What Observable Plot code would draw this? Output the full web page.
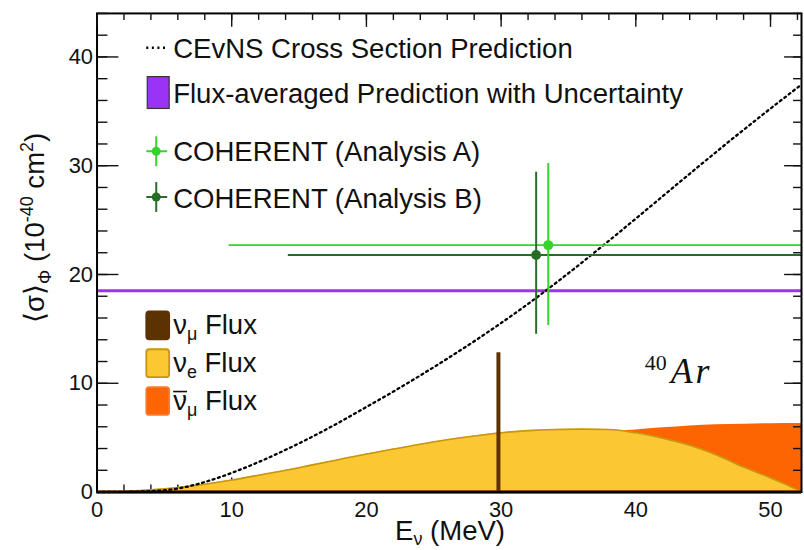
<!DOCTYPE html>
<html>
<head>
<meta charset="utf-8">
<script src="https://cdn.jsdelivr.net/npm/d3@7"></script>
<script src="https://cdn.jsdelivr.net/npm/@observablehq/plot@0.6"></script>
<style>
  html, body { margin: 0; padding: 0; background: #fff; overflow: hidden; }
  #chart { width: 804px; height: 550px; overflow: hidden; }
  #chart svg { display: block; }
</style>
</head>
<body>
<div id="chart"></div>
<script>
// Neutrino energy grid (MeV)
const energy = [0, 2, 4, 6, 8, 10, 12, 14, 16, 18, 20, 22, 24, 26, 28, 30, 32, 34, 36, 38, 40, 42, 44, 46, 48, 50, 52, 52.3];
// CEvNS cross section on argon (1e-40 cm^2)
const crossSection = [0, 0.02, 0.08, 0.32, 0.92, 1.76, 2.76, 3.88, 5.1, 6.42, 7.82, 9.24, 10.72, 12.26, 13.86, 15.54, 17.3, 19.16, 21.1, 23.1, 25.14, 27.2, 29.26, 31.3, 33.3, 35.26, 37.18, 37.47];
// Delayed nu_e flux shape (arbitrary units, same axis)
const nueFlux = [0, 0.05, 0.2, 0.42, 0.72, 1.1, 1.55, 2.0, 2.5, 3.0, 3.5, 3.95, 4.4, 4.8, 5.15, 5.45, 5.65, 5.75, 5.78, 5.75, 5.45, 4.95, 4.3, 3.4, 2.3, 1.3, 0.2, 0];
// Delayed anti-nu_mu flux shape (arbitrary units)
const numubarFlux = [0, 0.01, 0.06, 0.15, 0.3, 0.5, 0.75, 1.0, 1.3, 1.65, 2.1, 2.55, 3.0, 3.5, 4.0, 4.4, 4.8, 5.1, 5.35, 5.55, 5.7, 5.9, 6.08, 6.18, 6.24, 6.28, 6.3, 6.3];
// Prompt nu_mu line from pion decay at rest
const numuEnergy = [29.8];
const numuPeak = [12.8];
// Flux-averaged prediction
const fluxAveraged = [18.5];
// COHERENT measurements: central values and error-bar extents
const coherentLabels = ["COHERENT (Analysis A)", "COHERENT (Analysis B)"];
const coherentEnergy = [33.5, 32.6];
const coherentEnergyLow = [9.8, 14.2];
const coherentEnergyHigh = [60, 60];
const coherentSigma = [22.7, 21.8];
const coherentSigmaLow = [15.3, 14.5];
const coherentSigmaHigh = [30.2, 29.4];
const coherentColors = ["#35d42c", "#266e26"];
// Axis ticks
const xMajor = [0, 10, 20, 30, 40, 50];
const xMinor = d3.range(0, 53, 2);
const yMajor = [0, 10, 20, 30, 40];
const yMinor = d3.range(0, 45, 2);

const brown = "#5c3200";
const yellow = "#fbc733";
const gold = "#c9950e";
const orange = "#fd6503";
const purple = "#9b33f7";
const font = "'Liberation Sans', Helvetica, Arial, sans-serif";
const dots = "2,3.6";

const fluxTable = energy.map((e, i) => ({energy: e, nue: nueFlux[i], numubar: numubarFlux[i], xs: crossSection[i]}));
const coherent = coherentLabels.map((label, i) => ({
  label, energy: coherentEnergy[i], eLo: coherentEnergyLow[i], eHi: coherentEnergyHigh[i],
  sigma: coherentSigma[i], sLo: coherentSigmaLow[i], sHi: coherentSigmaHigh[i], color: coherentColors[i]
}));

const W = 808, H = 550;
const mL = 97, mR = 3, mT = 13, mB = 56;
const FW = W - mL - mR, FH = H - mT - mB;
const tick = {stroke: "#111", strokeOpacity: 1, strokeWidth: 1.4};

const plot = Plot.plot({
  width: W, height: H,
  marginLeft: mL, marginRight: mR, marginTop: mT, marginBottom: mB,
  x: {domain: [0, 52.3]},
  y: {domain: [0, 44]},
  color: {type: "identity"},
  style: {fontFamily: font, background: "white", color: "#111"},
  marks: [
    // bottom ticks lie beneath the flux fills
    Plot.gridX({ticks: xMinor, ...tick, insetTop: FH - 7}),
    Plot.gridX({ticks: xMajor, ...tick, insetTop: FH - 14}),
    Plot.areaY(fluxTable, {x: "energy", y: "numubar", fill: orange, curve: "monotone-x"}),
    Plot.areaY(fluxTable, {x: "energy", y: "nue", fill: yellow, curve: "monotone-x"}),
    Plot.lineY(fluxTable, {x: "energy", y: "nue", stroke: gold, strokeWidth: 1.6, curve: "monotone-x"}),
    Plot.ruleY([0], {stroke: brown, strokeWidth: 3.5}),
    Plot.ruleX(numuEnergy, {x: d => d, y1: 0, y2: numuPeak[0], stroke: brown, strokeWidth: 4}),
    Plot.ruleY(fluxAveraged, {stroke: purple, strokeWidth: 3}),
    Plot.lineY(fluxTable, {x: "energy", y: "xs", stroke: "#000", strokeWidth: 2.3, strokeDasharray: dots, curve: "monotone-x"}),
    Plot.ruleY(coherent, {y: "sigma", x1: "eLo", x2: "eHi", stroke: "color", strokeWidth: 2, clip: true}),
    Plot.ruleX(coherent, {x: "energy", y1: "sLo", y2: "sHi", stroke: "color", strokeWidth: 2}),
    Plot.dot(coherent, {x: "energy", y: "sigma", r: 5, fill: "color"}),
    Plot.frame({stroke: "#000", strokeWidth: 2}),
    // inward ticks on left, right and top edges
    Plot.gridY({ticks: yMinor, ...tick, insetRight: FW - 11}),
    Plot.gridY({ticks: yMajor, ...tick, insetRight: FW - 22}),
    Plot.gridY({ticks: yMinor, ...tick, insetLeft: FW - 8}),
    Plot.gridY({ticks: yMajor, ...tick, insetLeft: FW - 17}),
    Plot.gridX({ticks: xMinor, ...tick, insetBottom: FH - 7}),
    Plot.gridX({ticks: xMajor, ...tick, insetBottom: FH - 14}),
    Plot.axisY({ticks: yMajor, tickSize: 0, tickPadding: 4, fontSize: 22, label: null}),
    Plot.axisX({ticks: xMajor, tickSize: 0, tickPadding: 9, fontSize: 22, label: null})
  ]
});

document.getElementById("chart").appendChild(plot);

// Annotations: axis titles, legends, target label
const svg = d3.select(plot);
const g = svg.append("g").attr("font-family", font).attr("fill", "#111").attr("font-size", 27.7).attr("text-anchor", "start");

// y-axis title
const yt = g.append("text").attr("transform", "translate(44,229) rotate(-90)").attr("text-anchor", "middle");
yt.append("tspan").text("\u27E8\u03C3\u27E9");
yt.append("tspan").attr("font-size", 18).attr("dy", 7).text("\u03A6");
yt.append("tspan").attr("dy", -7).text(" (10");
yt.append("tspan").attr("font-size", 18).attr("dy", -11).text("-40");
yt.append("tspan").attr("dy", 11).text(" cm");
yt.append("tspan").attr("font-size", 18).attr("dy", -11).text("2");
yt.append("tspan").attr("dy", 11).text(")");

// x-axis title
const xt = g.append("text").attr("x", 397).attr("y", 543);
xt.append("tspan").text("E");
xt.append("tspan").attr("font-size", 18).attr("dy", 5).text("\u03BD");
xt.append("tspan").attr("dy", -5).text(" (MeV)");

// upper legend
g.append("line").attr("x1", 147).attr("x2", 166).attr("y1", 48).attr("y2", 48)
  .attr("stroke", "#000").attr("stroke-width", 2.3).attr("stroke-dasharray", dots);
g.append("text").attr("x", 174).attr("y", 58).text("CEvNS Cross Section Prediction");
g.append("rect").attr("x", 148).attr("y", 77).attr("width", 22).attr("height", 32)
  .attr("fill", purple).attr("stroke", "#333").attr("stroke-width", 1.2);
g.append("text").attr("x", 174).attr("y", 104).text("Flux-averaged Prediction with Uncertainty");
[[152, 162], [198, 209]].forEach(([cy, base], i) => {
  const c = coherentColors[i];
  g.append("line").attr("x1", 147).attr("x2", 168).attr("y1", cy).attr("y2", cy).attr("stroke", c).attr("stroke-width", 2);
  g.append("line").attr("x1", 157).attr("x2", 157).attr("y1", cy - 15).attr("y2", cy + 15).attr("stroke", c).attr("stroke-width", 2);
  g.append("circle").attr("cx", 157).attr("cy", cy).attr("r", 4.5).attr("fill", c);
  g.append("text").attr("x", 174).attr("y", base).text(coherentLabels[i]);
});

// flux legend
const fluxRows = [
  {fill: brown, stroke: brown, top: 313, base: 336, sub: "\u03BC", bar: false},
  {fill: yellow, stroke: gold, top: 351, base: 374, sub: "e", bar: false},
  {fill: orange, stroke: "#ff7a2a", top: 389, base: 412, sub: "\u03BC", bar: true}
];
fluxRows.forEach(r => {
  g.append("rect").attr("x", 147).attr("y", r.top).attr("width", 23).attr("height", 28).attr("rx", 3)
    .attr("fill", r.fill).attr("stroke", r.stroke).attr("stroke-width", 1.8);
  const t = g.append("text").attr("x", 174).attr("y", r.base);
  t.append("tspan").text("\u03BD");
  t.append("tspan").attr("font-size", 18).attr("dy", 6).text(r.sub);
  t.append("tspan").attr("dy", -6).text(" Flux");
  if (r.bar) g.append("line").attr("x1", 174).attr("x2", 188).attr("y1", 393.5).attr("y2", 393.5).attr("stroke", "#111").attr("stroke-width", 1.6);
});

// target nucleus label
const ar = g.append("text").attr("font-family", "'Liberation Serif', 'Times New Roman', serif").attr("fill", "#111");
ar.append("tspan").attr("x", 648).attr("y", 372).attr("font-size", 22).text("40");
ar.append("tspan").attr("x", 674).attr("y", 385).attr("font-size", 36).attr("font-style", "italic").attr("letter-spacing", 3).text("Ar");
</script>
</body>
</html>
